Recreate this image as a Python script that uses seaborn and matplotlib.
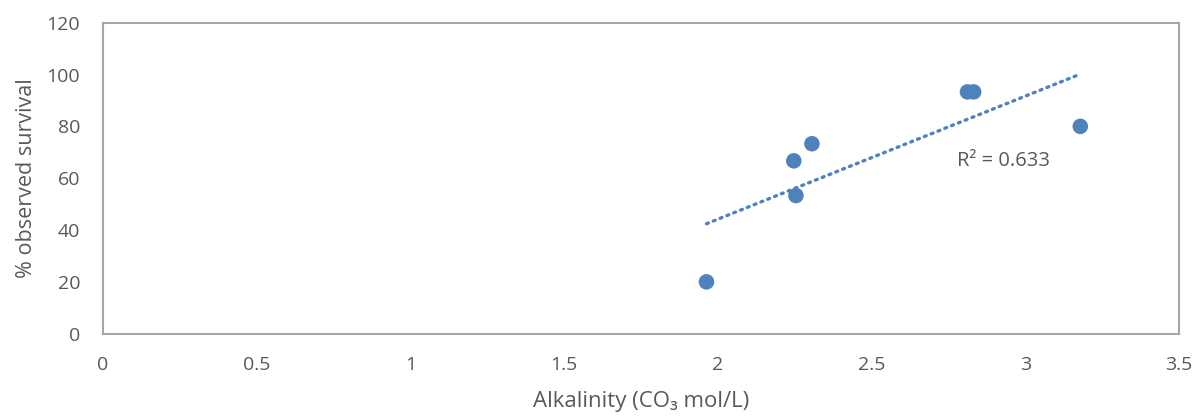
import numpy as np
import pandas as pd
import matplotlib
matplotlib.use("Agg")
import matplotlib.pyplot as plt
import seaborn as sns

# Data
alkalinity = [1.963, 2.247, 2.254, 2.306, 2.812, 2.832, 3.179]
survival = [20.0, 66.7, 53.3, 73.3, 93.3, 93.3, 80.0]
x_ticks = [0, 0.5, 1, 1.5, 2, 2.5, 3, 3.5]
x_tick_labels = ["0", "0.5", "1", "1.5", "2", "2.5", "3", "3.5"]
y_ticks = [0, 20, 40, 60, 80, 100, 120]
r2_label = "R² = 0.633"

df = pd.DataFrame({"alk": alkalinity, "surv": survival})

sns.set_theme(style="white")
plt.rcParams["font.family"] = ["Open Sans", "DejaVu Sans"]
plt.rcParams["mathtext.default"] = "regular"

text_col = "#595959"
blue = "#4F81BD"

fig = plt.figure(figsize=(11.95, 4.18), dpi=100)
ax = fig.add_axes([0.0862, 0.2017, 0.9004, 0.744])

sns.scatterplot(data=df, x="alk", y="surv", ax=ax, s=125, color=blue,
                edgecolor="none", linewidth=0, zorder=3)

# linear trend line (Excel-style dotted)
slope, intercept = np.polyfit(df["alk"], df["surv"], 1)
xs = np.array([df["alk"].min(), df["alk"].max()])
ax.plot(xs, slope * xs + intercept, linestyle=(0, (0.6, 1.6)), color=blue,
        linewidth=2.4, dash_capstyle="round", zorder=2)

ax.text(2.93, 66.6, r2_label, ha="center", va="center", fontsize=14.5,
        color=text_col)

ax.set_xlim(0, 3.5)
ax.set_ylim(0, 120)
ax.set_xticks(x_ticks)
ax.set_xticklabels(x_tick_labels)
ax.set_yticks(y_ticks)
ax.tick_params(axis="both", length=0, labelsize=14, labelcolor=text_col)
ax.tick_params(axis="x", pad=16)
ax.tick_params(axis="y", pad=16.5)

ax.set_xlabel("Alkalinity (CO$_{3}$ mol/L)".replace("$_{3}$", "\u2083"),
              fontsize=16, color=text_col, labelpad=12)
ax.set_ylabel("% observed survival", fontsize=15.5, color=text_col, labelpad=7)

for side in ["top", "bottom", "left", "right"]:
    ax.spines[side].set_visible(True)
    ax.spines[side].set_color("#A6A6A6")
    ax.spines[side].set_linewidth(1.5)
ax.grid(False)

fig.savefig("out.png", dpi=100)
